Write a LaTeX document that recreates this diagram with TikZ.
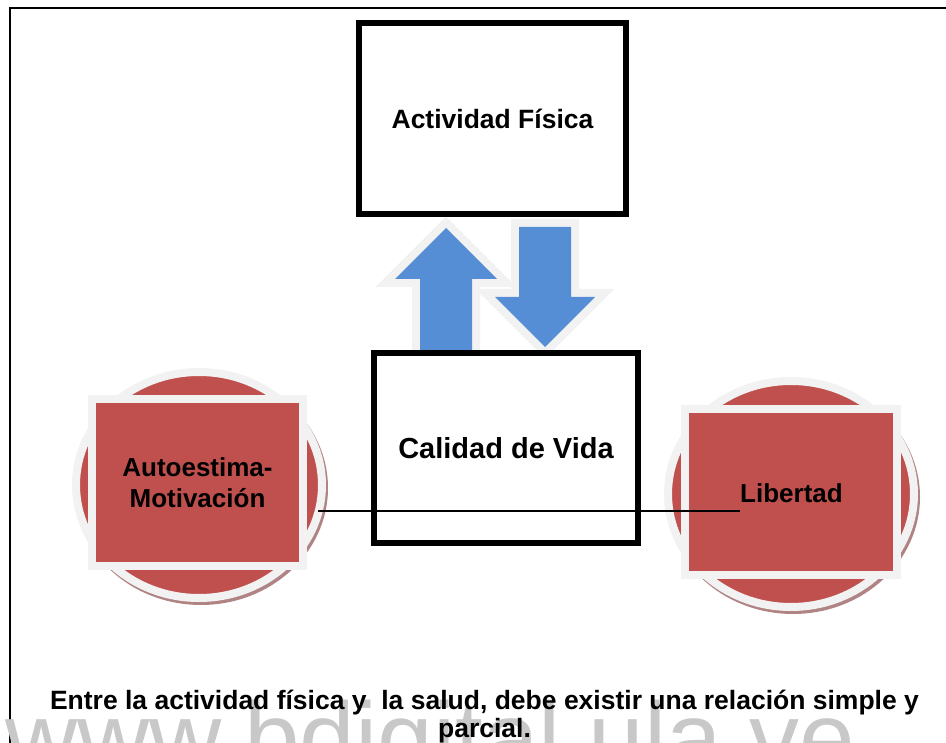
\documentclass[tikz,border=0pt]{standalone}
\usepackage{fontspec}
\setmainfont{Liberation Sans}
\definecolor{boxred}{RGB}{192,80,77}
\definecolor{glowgray}{RGB}{242,242,242}
\definecolor{arrowblue}{RGB}{85,142,213}
\definecolor{shadowred}{RGB}{176,132,132}
\definecolor{wmgray}{RGB}{200,200,200}
\tikzset{
  mainbox/.style={draw=black, fill=white, line width=6pt, inner sep=0pt, align=center,
    font=\bfseries\fontsize{26.5}{31}\selectfont},
  redsq/.style={draw=glowgray, fill=boxred, line width=8pt, inner sep=0pt, align=center,
    font=\bfseries\fontsize{26}{31}\selectfont},
  glowarrow/.style={preaction={draw=glowgray, line width=16pt, line join=miter}, fill=arrowblue},
  ringell/.style={draw=glowgray, fill=boxred, line width=8pt},
  shadowell/.style={fill=shadowred},
  linkline/.style={draw=black, line width=1.5pt}
}
\begin{document}
\begin{tikzpicture}[x=1pt,y=-1pt]
\useasboundingbox (0,0) rectangle (946,743);
\begin{scope}
\clip (0,0) rectangle (946,743);
% outer frame
\draw[line width=1.5pt] (10,760) -- (10,8) -- (960,8);
% watermark
\node[anchor=base west, inner sep=0pt, text=wmgray, font=\fontsize{100}{100}\selectfont] (wm) at (5,772) {www.bdigital.ula.ve};
% arrows
\path[glowarrow] (420,352) -- (420,279) -- (395,279) -- (446,228) -- (497,279) -- (472,279) -- (472,352) -- cycle;
\path[glowarrow] (519,227) -- (571,227) -- (571,297) -- (595,297) -- (545,347) -- (495,297) -- (519,297) -- cycle;
% main boxes
\node[mainbox, minimum width=267pt, minimum height=191pt] (af) at (492.5,118.5) {Actividad Física};
\node[mainbox, minimum width=264pt, minimum height=190pt, font=\bfseries\fontsize{29}{34}\selectfont] (cv) at (506,448) {Calidad de Vida};
% left circle
\fill[shadowell] (201,488) ellipse [x radius=127pt, y radius=117pt];
\path[ringell] (199,485) ellipse [x radius=123pt, y radius=113pt];
\node[redsq, minimum width=211pt, minimum height=167pt] (ae) at (197.5,482.5) {Autoestima-\\Motivación};
% right circle
\fill[shadowell] (793,497) ellipse [x radius=127pt, y radius=117pt];
\path[ringell] (791,494) ellipse [x radius=123pt, y radius=113pt];
\node[redsq, minimum width=212pt, minimum height=166pt] (lsq) at (791,492) {};
\node[inner sep=0pt, font=\bfseries\fontsize{26}{31}\selectfont] (lib) at (791.5,493) {Libertad};
% connector
\coordinate (la) at (318,511);
\coordinate (lb) at (lib.west |- la);
\draw[linkline] (la) -- (lb);
% caption
\node[anchor=base, align=center, inner sep=0pt, font=\bfseries\fontsize{26.5}{28}\selectfont] (cap) at (484.5,737)
  {Entre la actividad física y\ \ la salud, debe existir una relación simple y\\parcial.};
\end{scope}
\end{tikzpicture}
\end{document}
